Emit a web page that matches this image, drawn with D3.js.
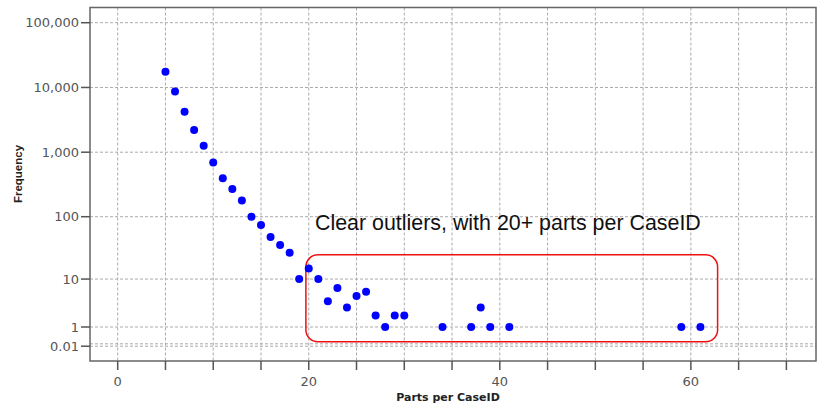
<!DOCTYPE html>
<html>
<head>
<meta charset="utf-8">
<script src="https://cdn.jsdelivr.net/npm/d3@7"></script>
<style>
  body { margin: 0; background: #fff; }
  .tick-label { font-family: "DejaVu Sans", Verdana, sans-serif; font-size: 13px; fill: #555; }
  .axis-title { font-family: "DejaVu Sans", Verdana, sans-serif; font-size: 11px; font-weight: bold; fill: #222; }
  .grid line { stroke: #aaa; stroke-dasharray: 3 2; stroke-width: 1; }
</style>
</head>
<body>
<script>
    const chart_width = 820;
    const chart_height = 407;

    // parts per CaseID and how often each occurs
    const partsPerCase = [5, 6, 7, 8, 9, 10, 11, 12, 13, 14, 15, 16, 17, 18, 19, 20, 21, 22, 23, 24, 25, 26, 27, 28, 29, 30, 34, 37, 38, 39, 41, 59, 61];
    const frequency = [17500, 8700, 4200, 2200, 1260, 690, 395, 270, 178, 100, 74, 48, 36, 27, 10, 15, 10, 4, 7, 3, 5, 6, 2, 1, 2, 2, 1, 1, 3, 1, 1, 1, 1];

    const yTicks = [0.01, 1, 10, 100, 1000, 10000, 100000];
    const yTickLabels = ["0.01", "1", "10", "100", "1,000", "10,000", "100,000"];
    const yGridExtra = [0.1];
    const xLabelTicks = [0, 20, 40, 60];
    const xMinorTicks = d3.range(0, 75, 5);

    const noteText = "Clear outliers, with 20+ parts per CaseID";
    const noteBox = { x0: 19.7, x1: 62.8, y0: 0.186, y1: 25 };

    const plot = { left: 90, top: 7.5, right: 816, bottom: 361 };

    // frequencies are shown on a log(1 + v) scale
    const f = v => Math.log10(1 + v);

    const x = d3.scaleLinear().domain([-2.9, 73.1]).range([plot.left, plot.right]);
    const y = d3.scaleLinear().domain([-0.224, 5.235]).range([plot.bottom, plot.top]);
    const yv = v => y(f(v));

    const svg = d3.select('body').append('svg')
        .attr('width', chart_width).attr('height', chart_height);

    // grid
    const grid = svg.append('g').attr('class', 'grid');
    grid.selectAll('line.v').data(xMinorTicks).enter().append('line')
        .attr('class', 'v')
        .attr('x1', d => x(d)).attr('x2', d => x(d))
        .attr('y1', plot.top).attr('y2', plot.bottom);
    grid.selectAll('line.h').data(yTicks.concat(yGridExtra)).enter().append('line')
        .attr('class', 'h')
        .attr('x1', plot.left).attr('x2', plot.right)
        .attr('y1', d => yv(d)).attr('y2', d => yv(d));

    // frame
    svg.append('rect')
        .attr('x', plot.left).attr('y', plot.top)
        .attr('width', plot.right - plot.left).attr('height', plot.bottom - plot.top)
        .attr('fill', 'none').attr('stroke', '#666').attr('stroke-width', 1.5);

    // y axis
    const yAxis = svg.append('g');
    yAxis.selectAll('line').data(yTicks).enter().append('line')
        .attr('x1', plot.left - 9).attr('x2', plot.left)
        .attr('y1', d => yv(d)).attr('y2', d => yv(d))
        .attr('stroke', '#555').attr('stroke-width', 1.5);
    yAxis.selectAll('text').data(yTicks).enter().append('text')
        .attr('class', 'tick-label')
        .attr('x', plot.left - 11).attr('y', d => yv(d))
        .attr('dy', '0.36em').attr('text-anchor', 'end')
        .text((d, i) => yTickLabels[i]);

    // x axis
    const xAxis = svg.append('g');
    xAxis.selectAll('line').data(xMinorTicks).enter().append('line')
        .attr('x1', d => x(d)).attr('x2', d => x(d))
        .attr('y1', plot.bottom).attr('y2', plot.bottom + 9)
        .attr('stroke', '#555').attr('stroke-width', 1.5);
    xAxis.selectAll('text').data(xLabelTicks).enter().append('text')
        .attr('class', 'tick-label')
        .attr('x', d => x(d)).attr('y', plot.bottom + 25)
        .attr('text-anchor', 'middle')
        .text(d => d);

    svg.append('text').attr('class', 'axis-title')
        .attr('x', (plot.left + plot.right) / 2 - 5).attr('y', 401)
        .attr('text-anchor', 'middle')
        .text('Parts per CaseID');
    svg.append('text').attr('class', 'axis-title')
        .attr('transform', 'translate(22,174) rotate(-90)')
        .attr('text-anchor', 'middle')
        .style('font-family', '"Liberation Sans", Arial, sans-serif')
        .style('font-size', '11.5px')
        .text('Frequency');

    // annotation
    svg.append('rect')
        .attr('x', x(noteBox.x0)).attr('y', yv(noteBox.y1))
        .attr('width', x(noteBox.x1) - x(noteBox.x0))
        .attr('height', yv(noteBox.y0) - yv(noteBox.y1))
        .attr('rx', 12).attr('ry', 12)
        .attr('fill', 'none').attr('stroke', '#ee1111').attr('stroke-width', 1.5);
    svg.append('text')
        .attr('x', 315).attr('y', 230)
        .attr('font-family', '"Liberation Sans", Arial, sans-serif')
        .attr('font-size', 21.4).attr('fill', '#111')
        .text(noteText);

    // points
    svg.append('g').selectAll('circle')
        .data(partsPerCase).enter().append('circle')
        .attr('cx', d => x(d))
        .attr('cy', (d, i) => yv(frequency[i]))
        .attr('r', 4)
        .attr('fill', '#0000ff');
</script>
</body>
</html>
